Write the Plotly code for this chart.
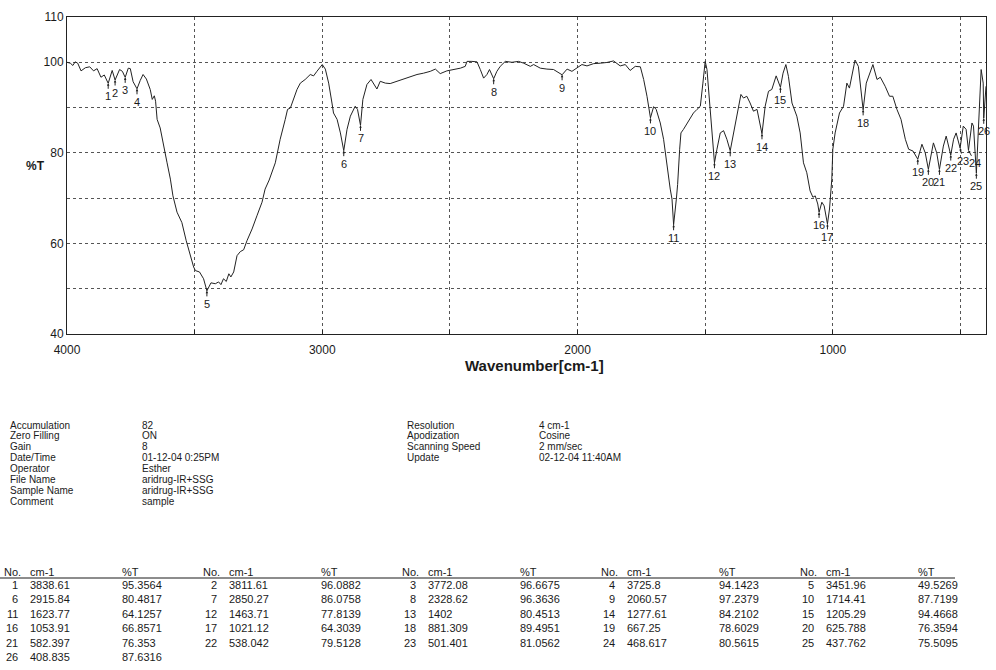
import plotly.graph_objects as go

# ---------------- data ----------------
wavenumber = [4000, 3987, 3977, 3968, 3958, 3945, 3928, 3911, 3896, 3882, 3867, 3854,
              3838.61, 3823, 3811.61, 3794, 3783, 3772.08, 3760, 3752, 3741, 3725.8,
              3713, 3702, 3689, 3674, 3666, 3658, 3653, 3647, 3635, 3622, 3608, 3595,
              3585, 3569, 3550, 3533, 3517, 3504, 3497, 3481, 3465, 3451.96, 3436, 3419,
              3406, 3397, 3387, 3376, 3366, 3358, 3347, 3334, 3321, 3308, 3295, 3275,
              3256, 3236, 3224, 3208, 3184, 3165, 3145, 3136, 3125, 3113, 3099, 3086,
              3067, 3047, 3034, 3021, 3008, 3000, 2988, 2975, 2962, 2956, 2942, 2929,
              2915.84, 2903, 2890, 2871, 2862, 2850.27, 2841, 2825, 2809, 2796, 2786,
              2773, 2753, 2734, 2707, 2681, 2655, 2629, 2603, 2577, 2557, 2538, 2512,
              2486, 2459, 2440, 2433, 2414, 2394, 2381, 2368, 2355, 2345, 2328.62, 2316,
              2303, 2283, 2257, 2231, 2211, 2185, 2172, 2146, 2120, 2094, 2060.57, 2041,
              2022, 2002, 1983, 1963, 1937, 1911, 1885, 1859, 1833, 1813, 1794, 1774,
              1754, 1741, 1728, 1714.41, 1702, 1692, 1676, 1663, 1650, 1637, 1630,
              1623.77, 1613, 1608, 1600, 1595, 1585, 1571, 1559, 1546, 1532, 1519, 1509,
              1500, 1493, 1483, 1474, 1463.71, 1454, 1441, 1428, 1415, 1402, 1389, 1376,
              1360, 1350, 1337, 1324, 1311, 1297, 1277.61, 1265, 1252, 1239, 1222,
              1205.29, 1195, 1184, 1174, 1160, 1141, 1128, 1115, 1102, 1089, 1078, 1069,
              1059, 1053.91, 1043, 1034, 1021.12, 1013, 1004, 1000, 991, 974, 958, 945,
              935, 913, 900, 881.309, 869, 853, 843, 827, 814, 795, 778, 765, 749, 733,
              716, 703, 686, 667.25, 651, 638, 625.788, 606, 593, 582.397, 567, 556,
              538.042, 527, 517, 501.401, 489, 478, 468.617, 455, 449, 437.762, 429, 419,
              411, 408.835, 400]
transmittance = [100.0, 99.8, 99.3, 100.1, 99.8, 98.1, 98.8, 99.0, 98.1, 98.6, 96.7, 97.2,
                 95.3564, 98.2, 96.0882, 98.4, 98.0, 96.6675, 98.7, 98.6, 95.7, 94.1423,
                 96.0, 97.3, 96.3, 94.0, 91.8, 92.6, 91.4, 87.4, 85.5, 81.5, 77.8, 74.2,
                 70.5, 66.9, 64.6, 60.6, 57.3, 54.8, 54.0, 53.7, 52.2, 49.5269, 51.3, 51.1,
                 51.5, 50.9, 52.2, 51.6, 53.3, 52.6, 53.7, 57.3, 58.2, 58.6, 60.6, 63.2,
                 66.1, 69.1, 72.0, 74.0, 77.8, 83.0, 87.4, 89.6, 89.9, 91.8, 94.0, 95.4,
                 96.2, 97.3, 97.0, 98.0, 99.1, 99.5, 98.5, 95.4, 91.0, 88.8, 87.4, 84.4,
                 80.4817, 85.2, 88.1, 90.3, 89.6, 86.0758, 91.8, 95.1, 96.2, 95.1, 94.1,
                 95.8, 95.4, 95.3, 95.8, 96.3, 96.9, 97.3, 97.6, 98.0, 98.5, 97.5, 98.1,
                 98.4, 98.7, 99.1, 100.2, 100.2, 100.1, 98.4, 96.5, 97.3, 98.4, 96.3636, 98.0,
                 99.1, 100.2, 100.0, 100.2, 99.8, 99.1, 99.5, 98.7, 98.5, 98.4, 97.2379, 98.5,
                 98.0, 98.7, 99.5, 99.2, 99.7, 99.8, 99.96, 100.3, 99.2, 99.5, 98.2, 99.1,
                 99.0, 96.2, 92.5, 87.7199, 90.2, 89.6, 86.6, 83.0, 77.1, 72.0, 69.8,
                 64.1257, 69.8, 73.0, 80.8, 84.4, 85.2, 86.6, 87.7, 88.8, 89.6, 90.3, 95.4,
                 100.2, 98.4, 91.8, 84.4, 77.8139, 80.8, 84.4, 84.9, 83.0, 80.4513, 84.4, 88.8,
                 92.9, 92.1, 92.5, 91.0, 89.2, 89.6, 84.2102, 90.3, 93.6, 94.0, 97.0,
                 94.4668, 97.6, 99.5, 96.9, 91.0, 88.1, 84.4, 77.8, 75.6, 71.6, 70.2, 70.5,
                 68.7, 66.8571, 69.1, 68.3, 64.3039, 67.6, 74.2, 80.8, 84.4, 88.8, 90.3, 95.4,
                 94.3, 100.5, 99.1, 89.4951, 95.4, 98.0, 99.5, 96.2, 96.7, 94.7, 92.5, 92.5, 89.6, 87.4,
                 83.0, 80.8, 80.4, 78.6029, 81.9, 80.0, 76.3594, 82.2, 80.0, 76.353, 81.5, 83.7,
                 79.5128, 83.0, 84.4, 81.0562, 85.9, 85.2, 80.5615, 86.6, 85.9, 75.5095, 85.9, 98.4,
                 95.4, 87.6316, 94.7]

peak_no = list(range(1, 27))
peak_cm = [3838.61, 3811.61, 3772.08, 3725.8, 3451.96, 2915.84, 2850.27, 2328.62, 2060.57,
           1714.41, 1623.77, 1463.71, 1402, 1277.61, 1205.29, 1053.91, 1021.12, 881.309,
           667.25, 625.788, 582.397, 538.042, 501.401, 468.617, 437.762, 408.835]
peak_T = [95.3564, 96.0882, 96.6675, 94.1423, 49.5269, 80.4817, 86.0758, 96.3636, 97.2379,
          87.7199, 64.1257, 77.8139, 80.4513, 84.2102, 94.4668, 66.8571, 64.3039, 89.4951,
          78.6029, 76.3594, 76.353, 79.5128, 81.0562, 80.5615, 75.5095, 87.6316]

x_tickvals = [4000, 3500, 3000, 2500, 2000, 1500, 1000, 500, 400]
x_ticktext = ["4000", "", "3000", "", "2000", "", "1000", "", "400"]
y_tickvals = [40, 50, 60, 70, 80, 90, 100, 110]
y_ticktext = ["40", "", "60", "", "80", "", "100", "110"]

meta_left_labels = ["Accumulation", "Zero Filling", "Gain", "Date/Time", "Operator",
                    "File Name", "Sample Name", "Comment"]
meta_left_values = ["82", "ON", "8", "01-12-04 0:25PM", "Esther", "aridrug-IR+SSG",
                    "aridrug-IR+SSG", "sample"]
meta_right_labels = ["Resolution", "Apodization", "Scanning Speed", "Update"]
meta_right_values = ["4 cm-1", "Cosine", "2 mm/sec", "02-12-04 11:40AM"]

# ---------------- geometry helpers ----------------
W, H = 996, 670
L, R, T, B = 67, 10, 17, 336
PW = W - L - R
PH = H - T - B
FONT = "Liberation Sans, Arial, sans-serif"
INK = "#1a1a1a"


def px(x):
    return (x - L) / PW


def py(y):
    return (H - B - y) / PH


fig = go.Figure()
fig.add_trace(go.Scatter(x=wavenumber, y=transmittance, mode="lines",
                         line=dict(color="#222222", width=1), hoverinfo="skip"))

annotations = []
# peak labels (small horizontal nudges where labels crowd)
nudge = {23: 3, 24: 7}
for n, c, t in zip(peak_no, peak_cm, peak_T):
    annotations.append(dict(x=c, y=t, xref="x", yref="y", text=str(n), showarrow=True,
                            ax=nudge.get(n, 0), ay=13, arrowhead=2, arrowsize=0.5, arrowwidth=1,
                            arrowcolor="#222", standoff=0, startstandoff=0,
                            font=dict(family=FONT, size=11, color=INK)))

# axis titles
annotations.append(dict(x=px(534), y=py(365), xref="paper", yref="paper", text="<b>Wavenumber[cm-1]</b>",
                        showarrow=False, xanchor="center", yanchor="middle",
                        font=dict(family=FONT, size=15, color=INK)))
annotations.append(dict(x=px(24), y=py(166), xref="paper", yref="paper", text="<b>%T</b>",
                        showarrow=False, xanchor="left", yanchor="middle",
                        font=dict(family=FONT, size=12, color=INK)))

# metadata
META_FS = 10
meta_y0, meta_dy = 425, 10.9
for i, (lab, val) in enumerate(zip(meta_left_labels, meta_left_values)):
    yy = py(meta_y0 + i * meta_dy)
    annotations.append(dict(x=px(8), y=yy, xref="paper", yref="paper", text=lab, showarrow=False,
                            xanchor="left", yanchor="middle", font=dict(family=FONT, size=META_FS, color=INK)))
    annotations.append(dict(x=px(140), y=yy, xref="paper", yref="paper", text=val, showarrow=False,
                            xanchor="left", yanchor="middle", font=dict(family=FONT, size=META_FS, color=INK)))
for i, (lab, val) in enumerate(zip(meta_right_labels, meta_right_values)):
    yy = py(meta_y0 + i * meta_dy)
    annotations.append(dict(x=px(405), y=yy, xref="paper", yref="paper", text=lab, showarrow=False,
                            xanchor="left", yanchor="middle", font=dict(family=FONT, size=META_FS, color=INK)))
    annotations.append(dict(x=px(537), y=yy, xref="paper", yref="paper", text=val, showarrow=False,
                            xanchor="left", yanchor="middle", font=dict(family=FONT, size=META_FS, color=INK)))

# peak table
tab_head_y, tab_row0, tab_dy = 572, 585, 14.4
group_x = [2 + 199 * k for k in range(5)]
for gx in group_x:
    for txt, dx in (("No.", 0), ("cm-1", 26), ("%T", 118)):
        annotations.append(dict(x=px(gx + dx), y=py(tab_head_y), xref="paper", yref="paper", text=txt,
                                showarrow=False, xanchor="left", yanchor="middle",
                                font=dict(family=FONT, size=11, color=INK)))
for i, (n, c, t) in enumerate(zip(peak_no, peak_cm, peak_T)):
    row, col = divmod(i, 5)
    gx = group_x[col]
    yy = py(tab_row0 + row * tab_dy)
    annotations.append(dict(x=px(gx + 18), y=yy, xref="paper", yref="paper", text=str(n),
                            showarrow=False, xanchor="right", yanchor="middle",
                            font=dict(family=FONT, size=11, color=INK)))
    annotations.append(dict(x=px(gx + 26), y=yy, xref="paper", yref="paper", text=f"{c:.6g}",
                            showarrow=False, xanchor="left", yanchor="middle",
                            font=dict(family=FONT, size=11, color=INK)))
    annotations.append(dict(x=px(gx + 118), y=yy, xref="paper", yref="paper", text=f"{t:.6g}",
                            showarrow=False, xanchor="left", yanchor="middle",
                            font=dict(family=FONT, size=11, color=INK)))

shapes = [dict(type="line", xref="paper", yref="paper", x0=px(0), x1=px(955),
               y0=py(578), y1=py(578), line=dict(color=INK, width=1))]

fig.update_layout(
    width=W, height=H, margin=dict(l=L, r=R, t=T, b=B, autoexpand=False),
    paper_bgcolor="white", plot_bgcolor="white", showlegend=False,
    annotations=annotations, shapes=shapes,
    xaxis=dict(range=[4000, 400], tickvals=x_tickvals, ticktext=x_ticktext, automargin=False,
               showgrid=True, gridcolor="#555555", griddash="dot", gridwidth=1,
               showline=True, mirror=True, linecolor="#222", linewidth=1,
               ticks="inside", ticklen=4, tickcolor="#222", zeroline=False,
               ticklabelstandoff=5,
               tickfont=dict(family=FONT, size=12, color=INK)),
    yaxis=dict(range=[40, 110], tickvals=y_tickvals, ticktext=y_ticktext, automargin=False,
               showgrid=True, gridcolor="#555555", griddash="dot", gridwidth=1,
               showline=True, mirror=True, linecolor="#222", linewidth=1,
               ticks="", zeroline=False,
               tickfont=dict(family=FONT, size=12, color=INK)),
)

fig.write_html("out.html", config={"displayModeBar": False},
               post_script="document.body.style.margin='0';document.body.style.overflow='hidden';")
